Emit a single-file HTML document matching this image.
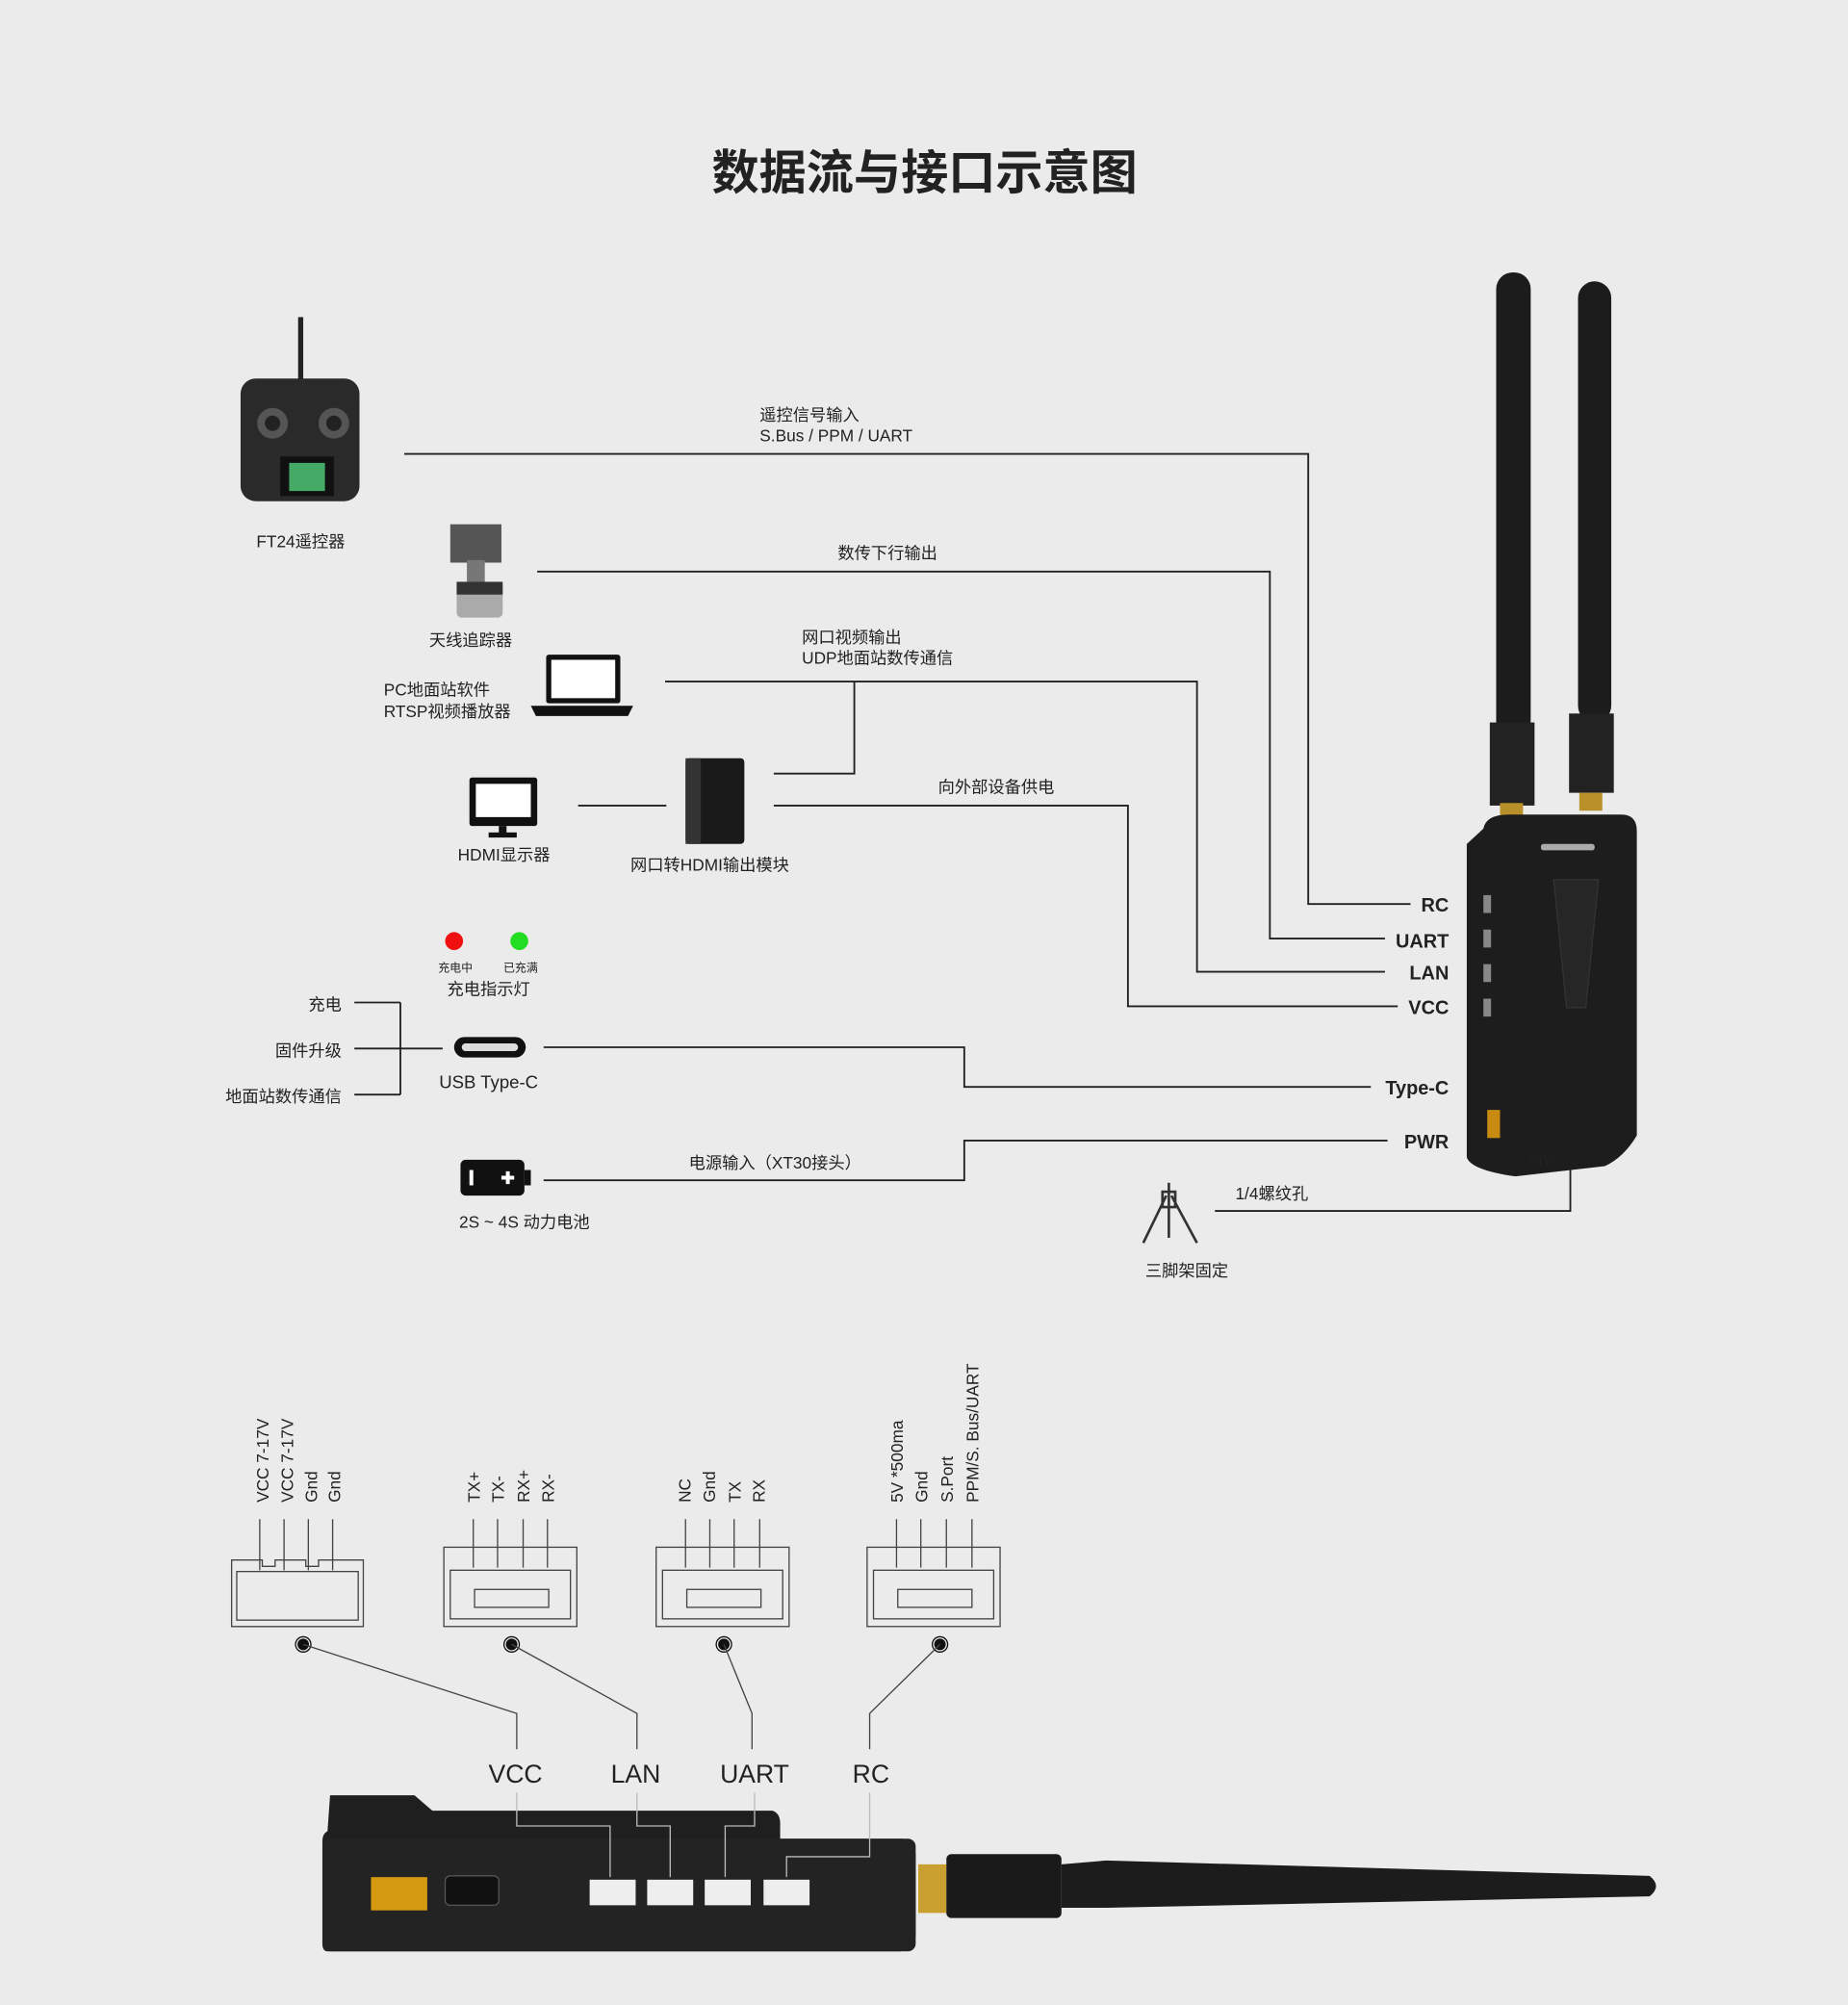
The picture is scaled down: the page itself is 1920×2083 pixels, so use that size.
<!DOCTYPE html>
<html><head><meta charset="utf-8"><style>
html,body{margin:0;padding:0;background:#ebebeb;}
svg{display:block}
text{font-family:"Liberation Sans","Noto Sans CJK SC",sans-serif;fill:#222}
</style></head><body>
<svg width="1920" height="2083" viewBox="0 0 1445 1568" xmlns="http://www.w3.org/2000/svg">
<rect width="1445" height="1568" fill="#ebebeb"/>
<text x="723" y="148" font-size="37" font-weight="bold" text-anchor="middle" fill="#111">数据流与接口示意图</text>

<g fill="none" stroke="#222" stroke-width="1.4">
<polyline points="316,355 1023,355 1023,707 1103,707"/>
<polyline points="420,447 993,447 993,734 1083,734"/>
<polyline points="520,533 936,533 936,760 1083,760"/>
<polyline points="668,533 668,605 605,605"/>
<polyline points="605,630 882,630 882,787 1093,787"/>
<line x1="452" y1="630" x2="521" y2="630"/>
<polyline points="425,819 754,819 754,850 1072,850"/>
<polyline points="425,923 754,923 754,892 1085,892"/>
<polyline points="950,947 1228,947 1228,915"/>
<line x1="277" y1="784" x2="313" y2="784"/>
<line x1="277" y1="856" x2="313" y2="856"/>
<line x1="277" y1="820" x2="346" y2="820"/>
<line x1="313" y1="784" x2="313" y2="856"/>
</g>

<g font-size="13">
<text x="594" y="329">遥控信号输入</text>
<text x="594" y="345">S.Bus / PPM / UART</text>
<text x="694" y="437" text-anchor="middle">数传下行输出</text>
<text x="627" y="503">网口视频输出</text>
<text x="627" y="519">UDP地面站数传通信</text>
<text x="779" y="620" text-anchor="middle">向外部设备供电</text>
<text x="606" y="914" text-anchor="middle">电源输入（XT30接头）</text>
<text x="966" y="938">1/4螺纹孔</text>
<text x="267" y="790" text-anchor="end">充电</text>
<text x="267" y="826" text-anchor="end">固件升级</text>
<text x="267" y="862" text-anchor="end">地面站数传通信</text>
<text x="382" y="851" text-anchor="middle" font-size="14">USB Type-C</text>
<text x="382" y="778" text-anchor="middle">充电指示灯</text>
<text x="410" y="960" text-anchor="middle">2S ~ 4S 动力电池</text>
<text x="928" y="998" text-anchor="middle">三脚架固定</text>
<text x="235" y="428" text-anchor="middle">FT24遥控器</text>
<text x="368" y="505" text-anchor="middle">天线追踪器</text>
<text x="300" y="544">PC地面站软件</text>
<text x="300" y="561">RTSP视频播放器</text>
<text x="394" y="673" text-anchor="middle">HDMI显示器</text>
<text x="555" y="681" text-anchor="middle">网口转HDMI输出模块</text>
</g>
<text x="356" y="760" font-size="9" text-anchor="middle">充电中</text>
<text x="407" y="760" font-size="9" text-anchor="middle">已充满</text>
<circle cx="355" cy="736" r="7" fill="#f01010"/>
<circle cx="406" cy="736" r="7" fill="#22dd22"/>

<g font-size="15" font-weight="bold" text-anchor="end" fill="#111">
<text x="1133" y="713">RC</text>
<text x="1133" y="741">UART</text>
<text x="1133" y="766">LAN</text>
<text x="1133" y="793">VCC</text>
<text x="1133" y="856">Type-C</text>
<text x="1133" y="898">PWR</text>
</g>

<!-- USB-C icon -->
<rect x="355" y="811" width="56" height="16" rx="8" fill="#111"/>
<rect x="361" y="816" width="44" height="6" rx="3" fill="#ddd"/>
<!-- battery -->
<rect x="360" y="907" width="50" height="28" rx="4" fill="#111"/>
<rect x="410" y="915" width="5" height="12" fill="#111"/>
<rect x="367" y="915" width="3" height="12" fill="#fff"/>
<path d="M392 921h10M397 916v10" stroke="#fff" stroke-width="3"/>
<!-- tripod -->
<g stroke="#333" stroke-width="2" fill="none">
<line x1="914" y1="925" x2="914" y2="935"/>
<line x1="912" y1="935" x2="894" y2="972"/>
<line x1="916" y1="935" x2="936" y2="972"/>
<line x1="914" y1="935" x2="914" y2="968"/>
<rect x="909" y="932" width="10" height="12"/>
</g>
<!-- remote -->
<rect x="233" y="248" width="4" height="52" fill="#222"/>
<rect x="188" y="296" width="93" height="96" rx="12" fill="#2a2a2a"/>
<circle cx="213" cy="331" r="12" fill="#555"/><circle cx="213" cy="331" r="6" fill="#222"/>
<circle cx="261" cy="331" r="12" fill="#555"/><circle cx="261" cy="331" r="6" fill="#222"/>
<rect x="219" y="357" width="42" height="31" fill="#111"/>
<rect x="226" y="362" width="28" height="22" fill="#4a6"/>
<!-- tracker -->
<rect x="352" y="410" width="40" height="30" fill="#555"/>
<rect x="365" y="438" width="14" height="18" fill="#777"/>
<rect x="357" y="455" width="36" height="28" rx="4" fill="#aaa"/>
<rect x="357" y="455" width="36" height="10" fill="#333"/>
<!-- laptop -->
<rect x="427" y="512" width="58" height="38" rx="2" fill="#111"/>
<rect x="431" y="516" width="50" height="30" fill="#fff"/>
<path d="M415 552h80l-4 8h-72z" fill="#111"/>
<!-- monitor -->
<rect x="367" y="608" width="53" height="38" rx="2" fill="#111"/>
<rect x="372" y="613" width="43" height="26" fill="#fff"/>
<rect x="390" y="646" width="6" height="6" fill="#111"/>
<rect x="382" y="651" width="22" height="4" fill="#111"/>
<!-- module -->
<rect x="536" y="593" width="46" height="67" rx="3" fill="#1a1a1a"/>
<rect x="536" y="593" width="12" height="67" fill="#333"/>

<!-- main device -->
<rect x="1170" y="213" width="27" height="370" rx="13" fill="#1c1c1c"/>
<rect x="1234" y="220" width="26" height="345" rx="13" fill="#1c1c1c"/>
<rect x="1165" y="565" width="35" height="65" fill="#222"/>
<rect x="1227" y="558" width="35" height="62" fill="#222"/>
<rect x="1173" y="628" width="18" height="14" fill="#b8902a"/>
<rect x="1235" y="620" width="18" height="14" fill="#b8902a"/>
<path d="M1160 648 Q1162 637 1180 637 L1268 637 Q1280 637 1280 650 L1280 888 Q1270 905 1255 912 L1185 920 Q1150 915 1147 905 L1147 660 Z" fill="#1d1d1d"/>
<rect x="1205" y="660" width="42" height="5" rx="2" fill="#aaa"/>
<rect x="1160" y="700" width="6" height="14" fill="#888"/>
<rect x="1160" y="727" width="6" height="14" fill="#888"/>
<rect x="1160" y="754" width="6" height="14" fill="#888"/>
<rect x="1160" y="781" width="6" height="14" fill="#888"/>
<rect x="1163" y="868" width="10" height="22" fill="#c88a10"/>
<path d="M1215 688h35l-10 100h-15z" fill="#262626" stroke="#333"/>
<text x="1196" y="912" font-size="11" fill="#ddd" font-family="Liberation Serif,serif">SIYI</text>

<!-- bottom connectors -->
<g fill="none" stroke="#444" stroke-width="1">
<path d="M181 1220h24v5h10v-5h24v5h10v-5h35v52h-103z"/>
<rect x="185" y="1229" width="95" height="38"/>
<rect x="347" y="1210" width="104" height="62"/><rect x="352" y="1228" width="94" height="38"/><rect x="371" y="1243" width="58" height="14"/>
<rect x="513" y="1210" width="104" height="62"/><rect x="518" y="1228" width="94" height="38"/><rect x="537" y="1243" width="58" height="14"/>
<rect x="678" y="1210" width="104" height="62"/><rect x="683" y="1228" width="94" height="38"/><rect x="702" y="1243" width="58" height="14"/>
</g>
<g stroke="#444" stroke-width="1">
<path d="M203 1188v40M222 1188v40M241 1188v40M260 1188v40"/>
<path d="M370 1188v38M389 1188v38M409 1188v38M428 1188v38"/>
<path d="M536 1188v38M555 1188v38M574 1188v38M594 1188v38"/>
<path d="M701 1188v38M720 1188v38M740 1188v38M760 1188v38"/>
</g>
<g font-size="13" fill="#111">
<text transform="translate(210,1175) rotate(-90)">VCC 7-17V</text>
<text transform="translate(229,1175) rotate(-90)">VCC 7-17V</text>
<text transform="translate(248,1175) rotate(-90)">Gnd</text>
<text transform="translate(266,1175) rotate(-90)">Gnd</text>
<text transform="translate(375,1175) rotate(-90)">TX+</text>
<text transform="translate(394,1175) rotate(-90)">TX-</text>
<text transform="translate(414,1175) rotate(-90)">RX+</text>
<text transform="translate(433,1175) rotate(-90)">RX-</text>
<text transform="translate(540,1175) rotate(-90)">NC</text>
<text transform="translate(559,1175) rotate(-90)">Gnd</text>
<text transform="translate(579,1175) rotate(-90)">TX</text>
<text transform="translate(598,1175) rotate(-90)">RX</text>
<text transform="translate(706,1175) rotate(-90)">5V *500ma</text>
<text transform="translate(725,1175) rotate(-90)">Gnd</text>
<text transform="translate(745,1175) rotate(-90)">S.Port</text>
<text transform="translate(765,1175) rotate(-90)">PPM/S. Bus/UART</text>
</g>
<g fill="#111" stroke="#111">
<circle cx="237" cy="1286" r="6" fill="none" stroke-width="1"/><circle cx="237" cy="1286" r="4"/>
<circle cx="400" cy="1286" r="6" fill="none" stroke-width="1"/><circle cx="400" cy="1286" r="4"/>
<circle cx="566" cy="1286" r="6" fill="none" stroke-width="1"/><circle cx="566" cy="1286" r="4"/>
<circle cx="735" cy="1286" r="6" fill="none" stroke-width="1"/><circle cx="735" cy="1286" r="4"/>
</g>
<g fill="none" stroke="#444" stroke-width="1">
<polyline points="237,1286 404,1340 404,1368"/>
<polyline points="400,1286 498,1340 498,1368"/>
<polyline points="566,1286 588,1340 588,1368"/>
<polyline points="735,1286 680,1340 680,1368"/>
</g>
<g font-size="20" text-anchor="middle" fill="#111">
<text x="403" y="1394">VCC</text><text x="497" y="1394">LAN</text><text x="590" y="1394">UART</text><text x="681" y="1394">RC</text>
</g>
<!-- side device -->
<path d="M258 1404 L324 1404 L338 1416 L604 1416 Q610 1418 610 1426 L610 1438 L706 1438 L716 1450 L716 1514 L704 1526 L256 1526 Q252 1526 252 1520 L252 1440 Q252 1434 256 1432 Z" fill="#1f1f1f"/>
<rect x="252" y="1438" width="464" height="88" rx="6" fill="#232323"/>
<rect x="290" y="1468" width="44" height="26" fill="#d69a12"/>
<rect x="348" y="1467" width="42" height="23" rx="4" fill="#111" stroke="#555"/>
<rect x="461" y="1470" width="36" height="20" fill="#eee"/>
<rect x="506" y="1470" width="36" height="20" fill="#eee"/>
<rect x="551" y="1470" width="36" height="20" fill="#eee"/>
<rect x="597" y="1470" width="36" height="20" fill="#eee"/>
<g fill="none" stroke="#bbb" stroke-width="1">
<polyline points="404,1402 404,1428 477,1428 477,1468"/>
<polyline points="498,1402 498,1428 524,1428 524,1468"/>
<polyline points="590,1402 590,1428 567,1428 567,1468"/>
<polyline points="680,1402 680,1452 615,1452 615,1468"/>
</g>
<rect x="718" y="1458" width="22" height="38" fill="#c9a030"/>
<rect x="740" y="1450" width="90" height="50" rx="4" fill="#1a1a1a"/>
<path d="M830 1458 L865 1455 L1290 1467 Q1300 1475 1290 1483 L865 1492 L830 1492 Z" fill="#1c1c1c"/>
</svg>
</body></html>
